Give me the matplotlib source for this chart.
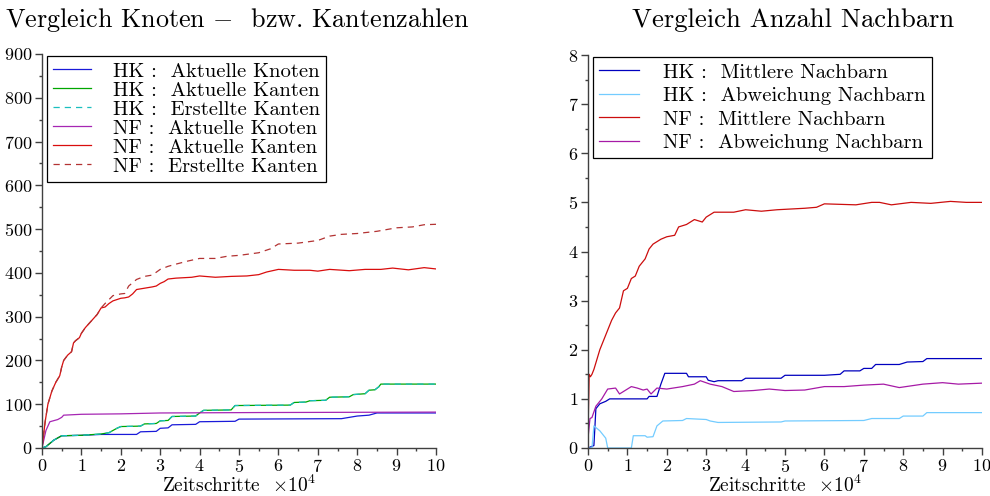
import matplotlib
matplotlib.use("Agg")
import matplotlib.pyplot as plt
from matplotlib.ticker import MultipleLocator

plt.rcParams["font.family"] = "serif"
plt.rcParams["font.serif"] = ["cmr10", "DejaVu Serif"]
plt.rcParams["mathtext.fontset"] = "cm"
plt.rcParams["axes.formatter.use_mathtext"] = True

# ---- left panel: node / edge counts (x in units of 1e4 steps) ----
hk_knoten_x = [0, 0.1, 0.3, 0.5, 1.0, 1.5, 2.4, 2.5, 2.9, 3.0, 3.2, 3.3, 3.9, 4.0, 4.9, 5.0, 7.6, 7.8, 8.0, 8.3, 8.5, 10]
hk_knoten_y = [0, 3, 18, 28, 29, 31, 31, 37, 38, 45, 46, 53, 54, 60, 61, 66, 67, 70, 73, 75, 80, 80]

hk_kanten_x = [0, 0.1, 0.3, 0.5, 1.0, 1.5, 1.7, 1.9, 2.0, 2.5, 2.6, 2.9, 3.0, 3.2, 3.3, 3.9, 4.0, 4.1, 4.8, 4.9, 6.3, 6.4, 6.7, 6.8, 7.2, 7.3, 7.8, 7.9, 8.2, 8.3, 8.45, 8.55, 8.6, 10]
hk_kanten_y = [0, 3, 18, 28, 29, 32, 35, 45, 49, 50, 55, 56, 62, 63, 72, 73, 80, 86, 87, 97, 98, 104, 105, 108, 109, 116, 117, 122, 124, 132, 133, 140, 146, 146]

hk_erstellt_x = hk_kanten_x
hk_erstellt_y = hk_kanten_y

nf_knoten_x = [0, 0.1, 0.2, 0.4, 0.5, 0.55, 1.0, 2.0, 3.0, 5.5, 10]
nf_knoten_y = [0, 40, 60, 65, 70, 75, 77, 78, 80, 81, 82]

nf_kanten_x = [0, 0.08, 0.15, 0.25, 0.35, 0.45, 0.5, 0.55, 0.65, 0.75, 0.8, 0.85, 0.95, 1.0, 1.1, 1.2, 1.3, 1.4, 1.5, 1.6, 1.7, 1.8, 2.0, 2.1, 2.2, 2.3, 2.4, 2.6, 2.8, 2.9, 3.0, 3.1, 3.2, 3.4, 3.8, 4.0, 4.4, 4.8, 5.2, 5.5, 5.7, 6.0, 6.4, 6.8, 7.0, 7.3, 7.8, 8.2, 8.6, 8.9, 9.3, 9.7, 10]
nf_kanten_y = [0, 60, 100, 130, 150, 165, 185, 200, 212, 220, 240, 245, 252, 262, 275, 285, 295, 305, 320, 322, 330, 336, 342, 343, 345, 352, 362, 365, 368, 370, 376, 380, 386, 388, 390, 393, 390, 392, 393, 396, 402, 408, 406, 406, 404, 408, 405, 408, 408, 411, 407, 412, 409]

nf_erstellt_x = [0, 0.08, 0.15, 0.25, 0.35, 0.45, 0.5, 0.55, 0.65, 0.75, 0.8, 0.85, 0.95, 1.0, 1.1, 1.2, 1.3, 1.4, 1.5, 1.6, 1.8, 2.0, 2.1, 2.2, 2.4, 2.6, 2.8, 3.0, 3.2, 3.4, 3.7, 4.0, 4.4, 4.7, 5.0, 5.5, 5.8, 6.0, 6.5, 7.0, 7.3, 7.6, 8.0, 8.5, 9.0, 9.4, 9.7, 10]
nf_erstellt_y = [0, 60, 100, 130, 150, 165, 185, 200, 212, 220, 240, 245, 252, 262, 275, 285, 295, 305, 320, 330, 348, 352, 353, 370, 385, 392, 395, 408, 415, 420, 427, 433, 433, 438, 440, 446, 455, 466, 468, 474, 484, 488, 490, 495, 503, 505, 510, 511]

# ---- right panel: neighbour statistics ----
hk_mittel_x = [0, 0.15, 0.2, 0.3, 0.45, 0.55, 1.5, 1.55, 1.75, 1.85, 1.95, 2.5, 2.55, 3.0, 3.05, 3.2, 3.3, 3.9, 4.0, 4.9, 5.0, 6.0, 6.4, 6.5, 6.9, 7.0, 7.2, 7.3, 7.9, 8.1, 8.5, 8.6, 10]
hk_mittel_y = [0, 0.05, 0.8, 0.9, 0.95, 1.0, 1.0, 1.05, 1.05, 1.3, 1.52, 1.52, 1.45, 1.45, 1.38, 1.35, 1.37, 1.37, 1.42, 1.42, 1.48, 1.48, 1.5, 1.57, 1.57, 1.62, 1.62, 1.7, 1.7, 1.75, 1.76, 1.82, 1.82]

hk_abw_x = [0, 0.1, 0.15, 0.3, 0.45, 0.5, 1.1, 1.15, 1.45, 1.5, 1.65, 1.75, 1.9, 2.4, 2.5, 3.0, 3.1, 3.3, 4.9, 5.0, 7.0, 7.2, 7.9, 8.0, 8.5, 8.6, 10]
hk_abw_y = [0, 0, 0.45, 0.35, 0.2, 0.0, 0.0, 0.25, 0.25, 0.22, 0.23, 0.45, 0.55, 0.56, 0.6, 0.58, 0.55, 0.52, 0.53, 0.55, 0.56, 0.6, 0.6, 0.65, 0.65, 0.72, 0.72]

nf_mittel_x = [0, 0.03, 0.06, 0.1, 0.15, 0.3, 0.45, 0.6, 0.7, 0.8, 0.9, 1.0, 1.1, 1.2, 1.3, 1.45, 1.55, 1.65, 1.85, 2.0, 2.2, 2.3, 2.5, 2.7, 2.9, 3.0, 3.2, 3.7, 4.0, 4.4, 4.8, 5.5, 5.8, 6.0, 6.8, 7.2, 7.4, 7.7, 8.0, 8.2, 8.7, 9.2, 9.6, 10]
nf_mittel_y = [0.3, 1.5, 1.45, 1.5, 1.6, 2.0, 2.3, 2.6, 2.75, 2.85, 3.2, 3.25, 3.45, 3.5, 3.7, 3.85, 4.05, 4.15, 4.25, 4.3, 4.33, 4.5, 4.55, 4.65, 4.6, 4.7, 4.8, 4.8, 4.85, 4.82, 4.85, 4.88, 4.9, 4.97, 4.95, 5.0, 5.0, 4.95, 4.98, 5.0, 4.98, 5.02, 5.0, 5.0]

nf_abw_x = [0, 0.05, 0.1, 0.2, 0.35, 0.5, 0.7, 0.8, 1.0, 1.1, 1.25, 1.4, 1.5, 1.6, 1.75, 2.0, 2.4, 2.7, 2.85, 3.1, 3.4, 3.7, 4.2, 4.6, 5.0, 5.5, 6.0, 6.5, 7.0, 7.5, 7.9, 8.5, 9.0, 9.4, 10]
nf_abw_y = [0.2, 0.6, 0.62, 0.85, 1.0, 1.2, 1.22, 1.1, 1.2, 1.25, 1.22, 1.18, 1.2, 1.1, 1.22, 1.2, 1.25, 1.3, 1.37, 1.3, 1.25, 1.15, 1.17, 1.2, 1.17, 1.18, 1.25, 1.25, 1.28, 1.3, 1.23, 1.3, 1.33, 1.3, 1.32]

fig = plt.figure(figsize=(9.9, 4.96), dpi=100)
W, H = 990, 496
ax1 = fig.add_axes([42 / W, 1 - 448 / H, 394 / W, 394 / H])
ax2 = fig.add_axes([588 / W, 1 - 448 / H, 394 / W, 393 / H])

lw = 0.9
ax1.plot(hk_knoten_x, hk_knoten_y, color=(0.1, 0.1, 0.85), lw=lw, label="HK :  Aktuelle Knoten")
ax1.plot(hk_kanten_x, hk_kanten_y, color=(0.0, 0.65, 0.0), lw=lw, label="HK :  Aktuelle Kanten")
ax1.plot(hk_erstellt_x, hk_erstellt_y, color=(0.1, 0.75, 0.75), lw=lw, ls=(0, (5, 4)), label="HK :  Erstellte Kanten")
ax1.plot(nf_knoten_x, nf_knoten_y, color=(0.65, 0.15, 0.7), lw=lw, label="NF :  Aktuelle Knoten")
ax1.plot(nf_kanten_x, nf_kanten_y, color=(0.85, 0.05, 0.05), lw=lw, label="NF :  Aktuelle Kanten")
ax1.plot(nf_erstellt_x, nf_erstellt_y, color=(0.7, 0.2, 0.2), lw=lw, ls=(0, (5, 4)), label="NF :  Erstellte Kanten")

ax2.plot(hk_mittel_x, hk_mittel_y, color=(0.0, 0.0, 0.75), lw=lw, label="HK :  Mittlere Nachbarn")
ax2.plot(hk_abw_x, hk_abw_y, color=(0.45, 0.8, 1.0), lw=lw, label="HK :  Abweichung Nachbarn")
ax2.plot(nf_mittel_x, nf_mittel_y, color=(0.8, 0.05, 0.05), lw=lw, label="NF :  Mittlere Nachbarn")
ax2.plot(nf_abw_x, nf_abw_y, color=(0.65, 0.1, 0.65), lw=lw, label="NF :  Abweichung Nachbarn")

axis_col = (0.25, 0.25, 0.25)
for ax in (ax1, ax2):
    ax.set_xlim(0, 10)
    ax.spines["top"].set_visible(False)
    ax.spines["right"].set_visible(False)
    for s in ("left", "bottom"):
        ax.spines[s].set_color(axis_col)
        ax.spines[s].set_linewidth(1.0)
    ax.xaxis.set_major_locator(MultipleLocator(1))
    ax.xaxis.set_minor_locator(MultipleLocator(0.5))
    ax.tick_params(which="major", direction="out", length=5, width=1.0, color=axis_col,
                   labelsize=13, pad=2)
    ax.tick_params(which="minor", direction="out", length=2.5, width=1.0, color=axis_col)
    ax.set_xlabel(r"Zeitschritte  $\times 10^4$", fontsize=14, labelpad=0)

ax1.set_ylim(0, 900)
ax1.yaxis.set_major_locator(MultipleLocator(100))
ax1.yaxis.set_minor_locator(MultipleLocator(50))
ax2.set_ylim(0, 8)
ax2.yaxis.set_major_locator(MultipleLocator(1))
ax2.yaxis.set_minor_locator(MultipleLocator(0.5))

fig.text(237 / W, 1 - 20 / H, r"Vergleich Knoten $-$  bzw. Kantenzahlen", ha="center", va="center", fontsize=18.8)
fig.text(793 / W, 1 - 20 / H, "Vergleich Anzahl Nachbarn", ha="center", va="center", fontsize=19.2)

leg_kw = dict(loc="upper left", borderaxespad=0, fancybox=False, framealpha=1,
              edgecolor="black", fontsize=14.8, borderpad=0.3)
l1 = ax1.legend(bbox_to_anchor=(0.012, 0.995), handlelength=1.85, handletextpad=1.07,
                labelspacing=0.03, **leg_kw)
l2 = ax2.legend(bbox_to_anchor=(0.012, 0.995), handlelength=1.95, handletextpad=1.17,
                labelspacing=0.25, **leg_kw)
for lg in (l1, l2):
    lg.get_frame().set_linewidth(0.9)

fig.savefig("out.png", dpi=100)
